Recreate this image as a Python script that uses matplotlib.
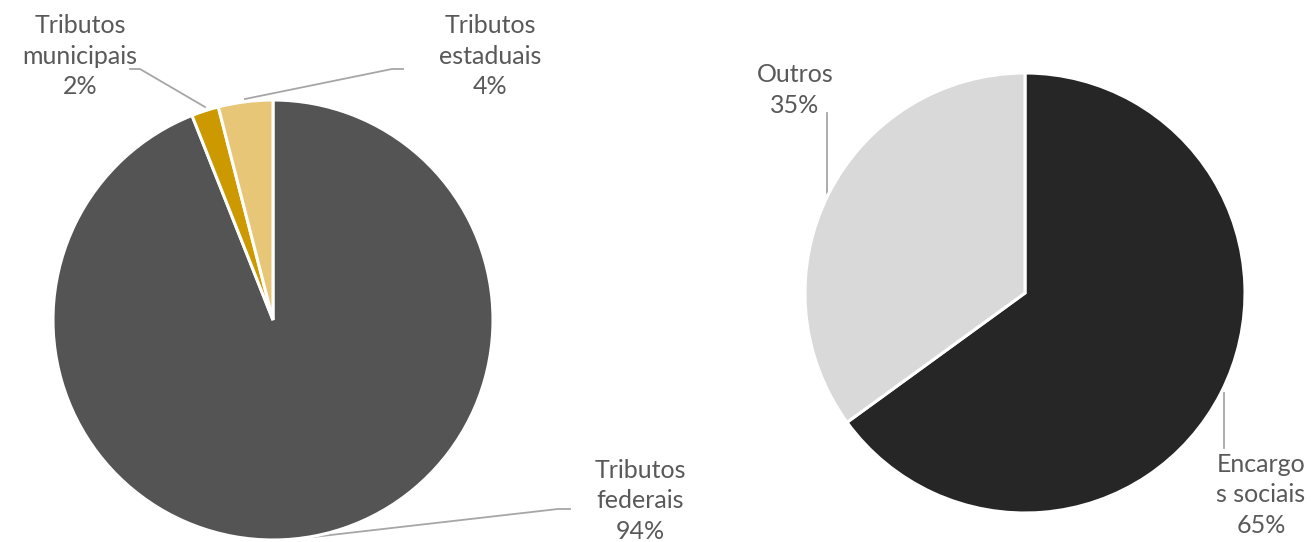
import matplotlib.pyplot as plt

# left pie: tax composition
left_labels = ["Tributos\nfederais", "Tributos\nmunicipais", "Tributos\nestaduais"]
left_values = [94, 2, 4]
left_colors = ["#545454", "#CC9900", "#E8C677"]

# right pie
right_labels = ["Encargo\ns sociais", "Outros"]
right_values = [65, 35]
right_colors = ["#262626", "#D9D9D9"]

W, H = 1314, 542
plt.rcParams['font.family'] = ['Lato', 'DejaVu Sans']
txt_color = "#595959"
line_color = "#A6A6A6"

fig = plt.figure(figsize=(W / 100, H / 100), dpi=100)
ax = fig.add_axes([0, 0, 1, 1])
ax.set_xlim(0, W)
ax.set_ylim(H, 0)
ax.set_aspect('equal')
ax.axis('off')

# pies are drawn in a normal (y-up) frame
ax2 = fig.add_axes([0, 0, 1, 1])
ax2.set_xlim(0, W)
ax2.set_ylim(0, H)
ax2.set_aspect('equal')
ax2.axis('off')

ax2.pie(left_values, colors=left_colors, startangle=90, counterclock=False,
        center=(273, H - 320), radius=220,
        wedgeprops=dict(edgecolor='white', linewidth=2.2))
ax2.pie(right_values, colors=right_colors, startangle=90, counterclock=False,
        center=(1025, H - 293), radius=220,
        wedgeprops=dict(edgecolor='white', linewidth=2.2))
ax2.set_xlim(0, W)
ax2.set_ylim(0, H)

# labels (pixel coords, y down)
label_pos = {
    0: (640, 501), 1: (80, 56), 2: (490, 56),
}
for i, (lab, v) in enumerate(zip(left_labels, left_values)):
    x, y = label_pos[i]
    ax.text(x, y, f"{lab}\n{v}%", ha='center', va='center', color=txt_color,
            fontsize=18, linespacing=1.42)
right_pos = {0: (1261, 495), 1: (795, 90)}
for i, (lab, v) in enumerate(zip(right_labels, right_values)):
    x, y = right_pos[i]
    ax.text(x, y, f"{lab}\n{v}%", ha='center', va='center', color=txt_color,
            fontsize=18, linespacing=1.42)

# leader lines
leaders = [
    [(130, 69), (140, 69), (205, 107)],
    [(403, 69), (392, 69), (245, 99)],
    [(570, 509), (558, 509), (313, 537)],
    [(827, 113), (827, 193)],
    [(1224, 393), (1224, 448)],
]
for pts in leaders:
    xs, ys = zip(*pts)
    ax.plot(xs, ys, color=line_color, linewidth=1.3)

fig.savefig("out.png", dpi=100)
